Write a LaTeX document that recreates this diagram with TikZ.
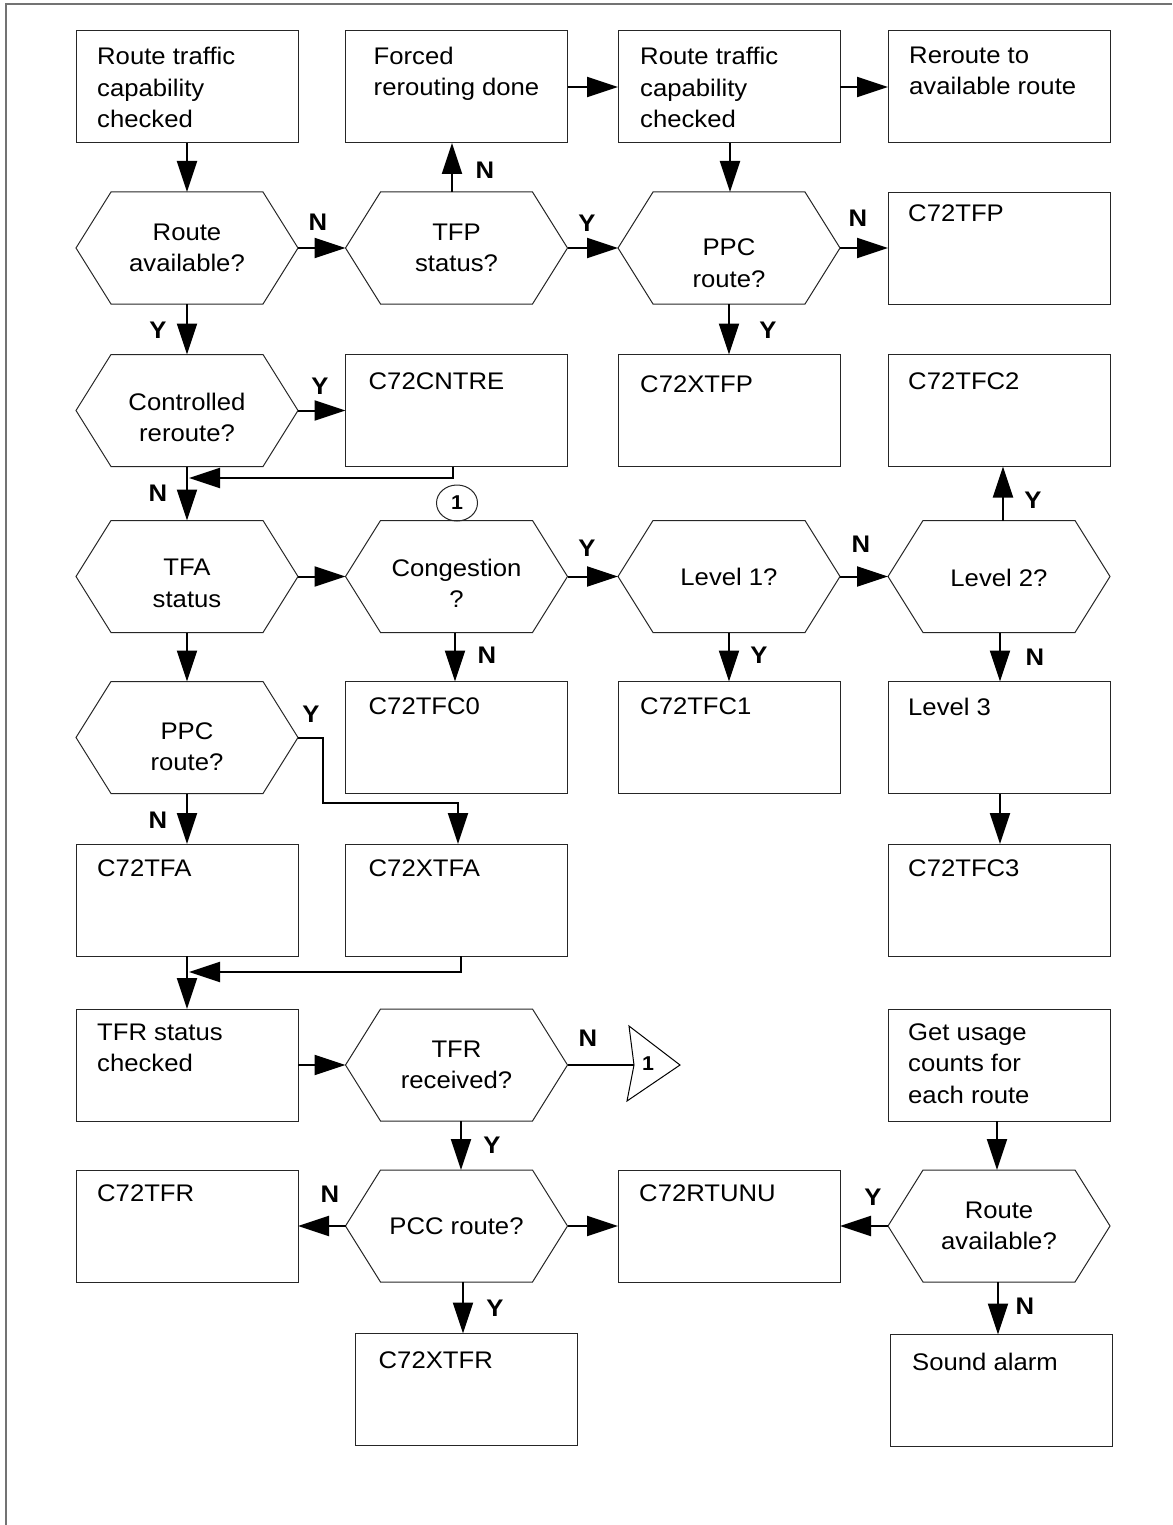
\documentclass[tikz,border=0pt]{standalone}
\usepackage{fontspec}
\setmainfont{Liberation Sans}[FakeStretch=1.07]
\usetikzlibrary{arrows.meta,shapes.geometric}

\tikzset{
 boxn/.style={draw=black!85, line width=1pt, minimum width=222pt, minimum height=112pt, inner sep=0pt, outer sep=0pt},
 hexn/.style={minimum width=222pt, minimum height=112pt, inner sep=0pt, outer sep=0pt},
 txt/.style={font=\fontsize{24}{31.5}\selectfont, align=left, inner sep=0pt, anchor=north west},
 htxt/.style={font=\fontsize{24}{31.5}\selectfont, align=center, inner sep=0pt},
 lbl/.style={font=\fontsize{24}{28}\selectfont\bfseries, inner sep=0pt},
 arr/.style={line width=2pt, -{Triangle[length=31pt,width=20pt]}},
 conn/.style={line width=2pt},
 hexline/.style={draw=black!85, line width=1pt},
 framel/.style={draw=black!55, line width=1.5pt},
 conncircle/.style={draw=black!85, ellipse, line width=1pt, minimum width=41pt, minimum height=36pt, inner sep=0pt, font=\fontsize{20}{20}\selectfont\bfseries}
}

\newcommand\mybox[6]{%
 \node[boxn] (#1) at (#2,#3) {};
 \node[txt] (#1-t) at ([xshift=#4pt,yshift=-#5pt]#1.north west) {#6};
}
\newcommand\myhex[5]{%
 \node[hexn] (#1) at (#2,#3) {};
 \draw[hexline] (#1.west) -- ([xshift=35pt]#1.north west) -- ([xshift=-35pt]#1.north east) -- (#1.east) -- ([xshift=-35pt]#1.south east) -- ([xshift=35pt]#1.south west) -- cycle;
 \node[htxt] (#1-t) at ([yshift=-#4pt]#1.center) {#5};
}

\begin{document}
\begin{tikzpicture}[x=1pt,y=-1pt]
\useasboundingbox (0,0) rectangle (1172,1525);
\draw[framel] (6,1525) -- (6,4) -- (1172,4);

% row 1
\mybox{b11}{187}{87}{21}{16}{Route traffic\\capability\\checked}
\mybox{b12}{456.5}{87}{28}{15.5}{Forced\\rerouting done}
\mybox{b13}{729}{87}{22}{16}{Route traffic\\capability\\checked}
\mybox{b14}{999}{87}{21}{15.5}{Reroute to\\available route}

% row 2
\myhex{h21}{187}{248}{0}{Route\\available?}
\myhex{h22}{456.5}{248}{0}{TFP\\status?}
\myhex{h23}{729}{248}{15}{PPC\\route?}
\mybox{b24}{999}{248.5}{20}{12.5}{C72TFP}

% row 3
\myhex{h31}{187}{410.5}{7}{Controlled\\reroute?}
\mybox{b32}{456.5}{410.5}{23}{18.5}{C72CNTRE}
\mybox{b33}{729}{410.5}{22}{21}{C72XTFP}
\mybox{b34}{999}{410.5}{20}{18.5}{C72TFC2}

% row 4
\myhex{h41}{187}{576.5}{7}{TFA\\status}
\myhex{h42}{456.5}{576.5}{7}{Congestion\\?}
\myhex{h43}{729}{576.5}{0}{Level 1?}
\myhex{h44}{999}{576.5}{1}{Level 2?}
\node[conncircle] (c1) at (457,503) {1};

% row 5
\myhex{h51}{187}{737.5}{9}{PPC\\route?}
\mybox{b52}{456.5}{737.5}{23}{16.5}{C72TFC0}
\mybox{b53}{729}{737.5}{22}{16.5}{C72TFC1}
\mybox{b54}{999}{737.5}{20}{16.5}{Level 3}

% row 6
\mybox{b61}{187}{900}{21}{15.5}{C72TFA}
\mybox{b62}{456.5}{900}{23}{15.5}{C72XTFA}
\mybox{b64}{999}{900}{20}{15.5}{C72TFC3}

% row 7
\mybox{b71}{187}{1065}{21}{14.5}{TFR status\\checked}
\myhex{h72}{456.5}{1065}{0}{TFR\\received?}
\coordinate (tri) at (634,1065);
\draw[line width=1pt] (629,1026) -- (680,1065) -- (627,1101) -- (tri) -- cycle;
\node[font=\fontsize{20}{20}\selectfont\bfseries, inner sep=0pt] (tri-t) at (648,1064) {1};
\mybox{b74}{999}{1065}{20}{14.5}{Get usage\\counts for\\each route}

% row 8
\mybox{b81}{187}{1226}{21}{14.5}{C72TFR}
\myhex{h82}{456.5}{1226}{0}{PCC route?}
\mybox{b83}{729}{1226}{21}{15}{C72RTUNU}
\myhex{h84}{999}{1226}{0}{Route\\available?}

% row 9
\mybox{b92}{466.5}{1389.5}{23}{18.5}{C72XTFR}
\mybox{b94}{1001}{1390.5}{22}{18.5}{Sound alarm}

% connectors
\draw[arr] (b11.south) -- (h21.north);
\draw[arr] (h21.east) -- (h22.west);
\draw[arr] ([xshift=-4.5pt]h22.north) -- ([xshift=-4.5pt]h22.north |- b12.south);
\draw[arr] (b12.east) -- (b13.west);
\draw[arr] (b13.east) -- (b14.west);
\draw[arr] ([xshift=1pt]b13.south) -- ([xshift=1pt]h23.north);
\draw[arr] (h22.east) -- (h23.west);
\draw[arr] (h23.east) -- (h23.east -| b24.west);
\draw[arr] (h23.south) -- (b33.north);
\draw[arr] (h21.south) -- (h31.north);
\draw[arr] (h31.east) -- (b32.west);
\draw[arr] (h31.south) -- (h41.north);
\coordinate (m1) at (189,478);
\draw[arr] ([xshift=-3.5pt]b32.south) |- (m1);
\draw[arr] (h41.east) -- (h42.west);
\draw[arr] (h42.east) -- (h43.west);
\draw[arr] (h43.east) -- (h44.west);
\draw[arr] ([xshift=4pt]h44.north) -- ([xshift=4pt]h44.north |- b34.south);
\draw[arr] ([xshift=-1.5pt]h42.south) -- ([xshift=-1.5pt]h42.south |- b52.north);
\draw[arr] (h43.south) -- (b53.north);
\draw[arr] ([xshift=1pt]h44.south) -- ([xshift=1pt]h44.south |- b54.north);
\draw[arr] ([xshift=1pt]b54.south) -- ([xshift=1pt]b54.south |- b64.north);
\draw[arr] (h41.south) -- (h51.north);
\draw[arr] (h51.south) -- (b61.north);
\coordinate (m3) at (323,803);
\draw[arr] (h51.east) -| (m3) -| ([xshift=1.5pt]b62.north);
\coordinate (m2) at (189,972);
\draw[arr] ([xshift=4.5pt]b62.south) |- (m2);
\draw[arr] (b61.south) -- (b71.north);
\draw[arr] (b71.east) -- (b71.east -| h72.west);
\draw[conn] (h72.east) -- (tri);
\draw[arr] ([xshift=4.5pt]h72.south) -- ([xshift=4.5pt]h72.south |- h82.north);
\draw[arr] ([xshift=-2pt]b74.south) -- ([xshift=-2pt]b74.south |- h84.north);
\draw[arr] (h84.west) -- (b83.east);
\draw[arr] (h82.east) -- (b83.west);
\draw[arr] (h82.west) -- (b81.east);
\draw[arr] ([xshift=6.5pt]h82.south) -- ([xshift=6.5pt]h82.south |- b92.north);
\draw[arr] ([xshift=-1pt]h84.south) -- ([xshift=-1pt]h84.south |- b94.north);

% labels
\node[lbl] (l1) at (318,222) {N};
\node[lbl] (l2) at (485,170) {N};
\node[lbl] (l3) at (587,223) {Y};
\node[lbl] (l4) at (858,218) {N};
\node[lbl] (l5) at (768,330) {Y};
\node[lbl] (l6) at (158,330) {Y};
\node[lbl] (l7) at (320,386) {Y};
\node[lbl] (l8) at (158,493) {N};
\node[lbl] (l9) at (587,548) {Y};
\node[lbl] (l10) at (861,544) {N};
\node[lbl] (l11) at (1033,500) {Y};
\node[lbl] (l12) at (487,655) {N};
\node[lbl] (l13) at (759,655) {Y};
\node[lbl] (l14) at (1035,657) {N};
\node[lbl] (l15) at (311,714) {Y};
\node[lbl] (l16) at (158,820) {N};
\node[lbl] (l17) at (588,1038) {N};
\node[lbl] (l18) at (492,1145) {Y};
\node[lbl] (l19) at (330,1194) {N};
\node[lbl] (l20) at (873,1197) {Y};
\node[lbl] (l21) at (495,1308) {Y};
\node[lbl] (l22) at (1025,1306) {N};
\end{tikzpicture}
\end{document}
